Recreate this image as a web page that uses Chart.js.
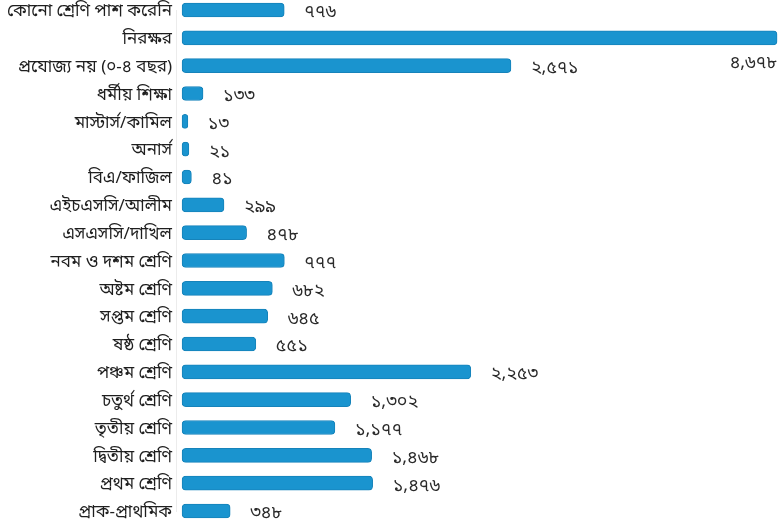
<!DOCTYPE html>
<html>
<head>
<meta charset="utf-8">
<script src="https://cdn.jsdelivr.net/npm/chart.js@4"></script>
<style>
  html, body { margin: 0; padding: 0; background: #fff; }
  #wrap { width: 782px; height: 525px; position: relative; }
</style>
</head>
<body>
<div id="wrap"><canvas id="chart"></canvas></div>
<script>
const categories = [
  "কোনো শ্রেণি পাশ করেনি",
  "নিরক্ষর",
  "প্রযোজ্য নয় (০-৪ বছর)",
  "ধর্মীয় শিক্ষা",
  "মাস্টার্স/কামিল",
  "অনার্স",
  "বিএ/ফাজিল",
  "এইচএসসি/আলীম",
  "এসএসসি/দাখিল",
  "নবম ও দশম শ্রেণি",
  "অষ্টম শ্রেণি",
  "সপ্তম শ্রেণি",
  "ষষ্ঠ শ্রেণি",
  "পঞ্চম শ্রেণি",
  "চতুর্থ শ্রেণি",
  "তৃতীয় শ্রেণি",
  "দ্বিতীয় শ্রেণি",
  "প্রথম শ্রেণি",
  "প্রাক-প্রাথমিক",
];
const counts = [776, 4678, 2571, 133, 13, 21, 41, 299, 478, 777, 682, 645, 551, 2253, 1302, 1177, 1468, 1476, 348];

const bnDigits = "০১২৩৪৫৬৭৮৯";
const toBangla = (n) => n.toLocaleString("en-US").replace(/\d/g, (d) => bnDigits[d]);

const FONT = "'Noto Sans Bengali', 'Noto Sans', 'DejaVu Sans', sans-serif";

const valueLabels = {
  id: "valueLabels",
  afterDatasetsDraw(chart) {
    const { ctx } = chart;
    const meta = chart.getDatasetMeta(0);
    const maxVal = Math.max(...counts);
    ctx.save();
    ctx.font = `18px ${FONT}`;
    ctx.fillStyle = "#2a2a2a";
    ctx.textBaseline = "middle";
    meta.data.forEach((bar, i) => {
      const text = toBangla(counts[i]);
      if (counts[i] === maxVal) {
        ctx.textAlign = "right";
        ctx.fillText(text, bar.x, bar.y + 27);
      } else {
        ctx.textAlign = "left";
        ctx.fillText(text, bar.x + 20, bar.y + 4);
      }
    });
    ctx.restore();
  },
};

new Chart(document.getElementById("chart"), {
  type: "bar",
  data: {
    labels: categories,
    datasets: [{
      data: counts,
      base: -33,
      backgroundColor: "#1a94cf",
      borderColor: "#1683ba",
      borderWidth: 1,
      borderRadius: 4,
      borderSkipped: false,
      barThickness: 14,
      clip: false,
    }],
  },
  options: {
    indexAxis: "y",
    responsive: true,
    maintainAspectRatio: false,
    animation: false,
    layout: { padding: { top: 10, bottom: 14, left: 0, right: 0 } },
    scales: {
      x: { display: false, min: -81, max: 4717 },
      y: {
        offset: false,
        afterFit: (scale) => { scale.width = 176; },
        grid: { display: false },
        border: { display: true, color: "#ececec", width: 1 },
        ticks: { color: "#1e1e1e", padding: -4, labelOffset: 3, font: { size: 17, family: FONT } },
      },
    },
    plugins: { legend: { display: false }, tooltip: { enabled: false } },
  },
  plugins: [valueLabels],
});
</script>
</body>
</html>
